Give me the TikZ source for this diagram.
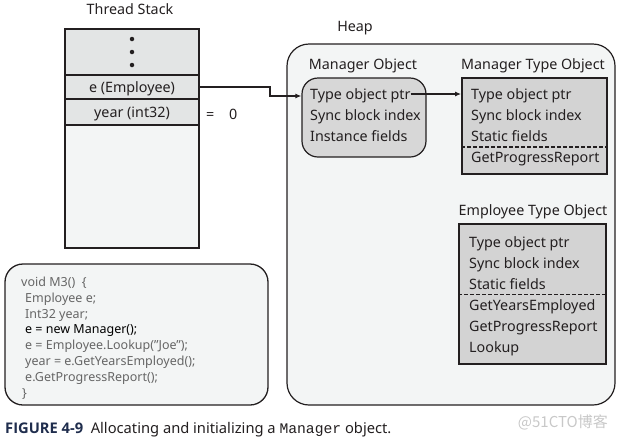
\documentclass[tikz,border=0pt]{standalone}
\usepackage{fontspec}
\setmainfont{Noto Sans}
\setmonofont{Liberation Mono}
\newfontfamily\capfont{Open Sans}
\newfontfamily\cjkfont{Noto Sans CJK SC}
\usetikzlibrary{arrows.meta}
\definecolor{ink}{HTML}{231F20}
\definecolor{pale}{HTML}{F3F5F5}
\definecolor{rowgray}{HTML}{E3E5E5}
\definecolor{objgray}{HTML}{D7D7D7}
\definecolor{typegray}{HTML}{D3D3D3}
\definecolor{codegray}{HTML}{666666}
\definecolor{capblue}{HTML}{1F2D4D}
\definecolor{wm}{HTML}{C8C8C8}
\begin{document}
\begin{tikzpicture}[x=1pt,y=-1pt,
  every node/.style={text=ink, inner sep=0pt},
  big/.style={font=\fontsize{14.3}{17}\selectfont},
  txt/.style={big, yshift=-1.8pt},
  lbl/.style={big, anchor=base west},
  stackrow/.style={draw=ink, line width=1.5pt, fill=rowgray, minimum width=134pt, minimum height=24pt, big},
  typebox/.style={draw=ink, line width=1.8pt, fill=typegray},
  code/.style={anchor=base west, text=codegray, font=\fontsize{12.5}{15}\selectfont},
  arr/.style={draw=ink, line width=1.2pt, -{Latex[length=6pt,width=5pt]}},
  dot/.style={circle, fill=ink, minimum size=4.5pt}]
\useasboundingbox (0,0) rectangle (619,440);

% ---------- Thread stack ----------
\node[big] (tstitle) at (130,9) {Thread Stack};
\node[stackrow, minimum height=46pt] (dots) at (132,52) {};
\node[dot] (d1) at (132,39) {};
\node[dot] (d2) at (132,52) {};
\node[dot] (d3) at (132,65) {};
\node[stackrow] (erow) at (132,87) {};
\node[txt] (elbl) at (erow) {e (Employee)};
\node[stackrow, minimum height=26pt] (yrow) at (132,112) {};
\node[txt] (ylbl) at (yrow) {year (int32)};
\node[stackrow, fill=pale, minimum height=123pt] (rest) at (132,186.5) {};
\node[lbl] (eq) at (206,119) {=};
\node[lbl] (zero) at (229,119) {0};

% ---------- Heap ----------
\node[big] (heaptitle) at (355,28) {Heap};
\node[draw=ink, line width=1.2pt, fill=pale, rounded corners=22pt,
      minimum width=328pt, minimum height=361pt] (heap) at (451,224.5) {};

% Manager object
\node[txt] (molbl) at (363,64) {Manager Object};
\node[draw=ink, line width=1.2pt, fill=objgray, rounded corners=16pt,
      minimum width=124pt, minimum height=79pt] (mo) at (364,117.5) {};
\node[lbl] (moptr) at (310,99) {Type object ptr};
\node[lbl] (mosync) at (310,120) {Sync block index};
\node[lbl] (moinst) at (310,141.5) {Instance fields};

% Manager type object
\node[txt] (mtolbl) at (533,64) {Manager Type Object};
\node[typebox, minimum width=145pt, minimum height=96pt] (mto) at (534.5,126) {};
\node[lbl] (mtoptr) at (471,99) {Type object ptr};
\node[lbl] (mtosync) at (471,120) {Sync block index};
\node[lbl] (mtostat) at (471,141) {Static fields};
\draw[ink, line width=1.3pt, dash pattern=on 3.5pt off 2.5pt] (mto.west |- 0,147) -- (mto.east |- 0,147);
\node[lbl] (mtogpr) at (471,162) {GetProgressReport};

% Employee type object
\node[txt] (etolbl) at (533,210) {Employee Type Object};
\node[typebox, minimum width=147pt, minimum height=140pt] (eto) at (532.5,294) {};
\node[lbl] (etoptr) at (469,247) {Type object ptr};
\node[lbl] (etosync) at (469,268) {Sync block index};
\node[lbl] (etostat) at (469,289) {Static fields};
\draw[ink, line width=1.3pt, dash pattern=on 3.5pt off 2.5pt] (eto.west |- 0,294.5) -- (eto.east |- 0,294.5);
\node[lbl] (etogye) at (469,310) {GetYearsEmployed};
\node[lbl] (etogpr) at (469,331) {GetProgressReport};
\node[lbl] (etolook) at (469,352) {Lookup};

% Connectors
\coordinate (bend) at (270,87);
\draw[arr] (erow.east) -- (bend) |- (mo.west |- 0,96);
\draw[arr] (moptr.east |- 0,94) -- (mto.west |- 0,94);

% ---------- Code box ----------
\node[draw=ink, line width=1.3pt, fill=pale, rounded corners=18pt,
      minimum width=263pt, minimum height=141pt] (codebox) at (136.5,334.5) {};
\node[code] (c1) at (21,286.5) {void M3()\ \ \{};
\node[code] (c2) at (25,302.3) {Employee e;};
\node[code] (c3) at (25,318.1) {Int32 year;};
\node[code, text=black] (c4) at (25,333.9) {e = new Manager();};
\node[code] (c5) at (25,349.7) {e = Employee.Lookup("Joe");};
\node[code] (c6) at (25,365.5) {year = e.GetYearsEmployed();};
\node[code] (c7) at (25,381.3) {e.GetProgressReport();};
\node[code] (c8) at (22,397.1) {\}};

% ---------- Caption ----------
\node[anchor=west, font=\fontsize{14.7}{17}\selectfont] (cap) at (5,430)
  {\textcolor{capblue}{\capfont\bfseries FIGURE 4-9}\ \ Allocating and initializing a {\ttfamily Manager} object.};
\node[anchor=east, text=wm, font=\cjkfont\fontsize{15}{17}\selectfont] (wmark) at (608,422) {@51CTO博客};
\end{tikzpicture}
\end{document}
